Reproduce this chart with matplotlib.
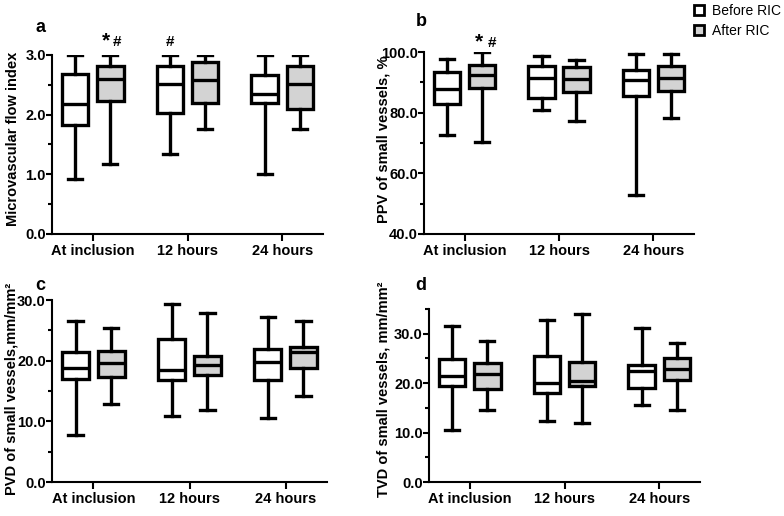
import matplotlib
matplotlib.use('Agg')
import matplotlib.pyplot as plt
from matplotlib.patches import Patch
from matplotlib.ticker import MultipleLocator, FormatStrFormatter

plt.rcParams['font.family'] = ['Liberation Sans', 'DejaVu Sans']

groups = ['At inclusion', '12 hours', '24 hours']

# five-number summaries per time point: [min, q1, median, q3, max]
mfi_before = [[0.92, 1.83, 2.18, 2.68, 3.0],
              [1.34, 2.03, 2.51, 2.82, 3.0],
              [1.00, 2.19, 2.34, 2.66, 3.0]]
mfi_after = [[1.18, 2.23, 2.59, 2.82, 3.0],
             [1.76, 2.19, 2.58, 2.88, 3.0],
             [1.76, 2.10, 2.51, 2.82, 3.0]]

ppv_before = [[72.6, 82.9, 87.9, 93.4, 97.7],
              [80.8, 84.8, 91.3, 95.5, 98.8],
              [52.7, 85.5, 90.8, 94.1, 99.2]]
ppv_after = [[70.3, 88.2, 92.5, 95.7, 100.0],
             [77.3, 86.8, 91.2, 95.1, 97.5],
             [78.4, 87.0, 91.4, 95.4, 99.5]]

pvd_before = [[7.7, 17.0, 18.8, 21.4, 26.6],
              [10.9, 16.8, 18.5, 23.5, 29.4],
              [10.6, 16.8, 19.7, 22.0, 27.2]]
pvd_after = [[12.8, 17.3, 19.6, 21.6, 25.4],
             [11.8, 17.7, 19.3, 20.8, 27.9],
             [14.2, 18.8, 21.5, 22.2, 26.5]]

tvd_before = [[10.6, 19.4, 21.5, 24.9, 31.5],
              [12.4, 18.1, 20.0, 25.5, 32.8],
              [15.5, 19.0, 22.4, 23.7, 31.1]]
tvd_after = [[14.6, 18.9, 21.9, 24.1, 28.6],
             [11.9, 19.4, 20.4, 24.2, 34.0],
             [14.5, 20.7, 22.9, 25.1, 28.2]]

W, H = 784, 516
fig = plt.figure(figsize=(W / 100, H / 100), dpi=100)


def make_ax(l, r, t, b):
    return fig.add_axes([l / W, 1 - b / H, (r - l) / W, (b - t) / H])


def to_stats(rows):
    return [dict(whislo=r[0], q1=r[1], med=r[2], q3=r[3], whishi=r[4],
                 fliers=[]) for r in rows]


def panel(ax, before, after, ylim, major, minor, ylabel, label_x, mid_y):
    off = 0.185
    for vals, dx, fc in ((before, -off, 'white'), (after, off, '#d3d3d3')):
        ax.bxp(to_stats(vals), positions=[i + dx for i in range(3)],
               widths=0.28, capwidths=0.15, patch_artist=True,
               showfliers=False,
               boxprops=dict(facecolor=fc, edgecolor='black', linewidth=2.4),
               medianprops=dict(color='black', linewidth=2.4),
               whiskerprops=dict(color='black', linewidth=2.4),
               capprops=dict(color='black', linewidth=2.4))
    ax.set_xlim(-0.43, 2.43)
    ax.set_ylim(*ylim)
    ax.set_xticks(range(3))
    ax.set_xticklabels(groups, fontsize=10.5, fontweight='bold')
    ax.yaxis.set_major_locator(MultipleLocator(major))
    ax.yaxis.set_minor_locator(MultipleLocator(minor))
    ax.yaxis.set_major_formatter(FormatStrFormatter('%.1f'))
    for lab in ax.get_yticklabels():
        lab.set_fontweight('bold')
        lab.set_fontsize(10.5)
    ax.tick_params(axis='x', which='major', direction='out', length=5,
                   width=1.5, pad=2)
    ax.tick_params(axis='y', which='major', direction='out', length=4,
                   width=1.5, pad=0.5)
    ax.tick_params(axis='y', which='minor', direction='out', length=3,
                   width=1.5)
    ax.tick_params(axis='x', which='minor', bottom=False)
    for s in ('top', 'right'):
        ax.spines[s].set_visible(False)
    for s in ('left', 'bottom'):
        ax.spines[s].set_linewidth(1.5)
    ax.set_ylabel(ylabel, fontsize=10.5, fontweight='bold')
    ax.yaxis.set_label_coords(label_x / W, 1 - mid_y / H,
                              transform=fig.transFigure)
    ax.patch.set_alpha(0)


ax_a = make_ax(52, 323, 55, 234)
panel(ax_a, mfi_before, mfi_after, (0, 3.0), 1.0, 0.5,
      'Microvascular flow index', 20, 139)
ax_b = make_ax(424, 694, 52, 234)
panel(ax_b, ppv_before, ppv_after, (40, 100), 20, 10,
      'PPV of small vessels, %', 390, 139)
ax_c = make_ax(52, 327, 300, 482)
panel(ax_c, pvd_before, pvd_after, (0, 30), 10, 5,
      'PVD of small vessels,mm/mm²', 19, 389)
ax_d = make_ax(429, 700, 309, 482)
panel(ax_d, tvd_before, tvd_after, (0, 35), 10, 5,
      'TVD of small vessels, mm/mm²', 390, 389)

# significance marks
for ax, x, y in ((ax_a, 0.14, 3.24), (ax_b, 0.15, 103.3)):
    ax.text(x, y, '*', ha='center', va='center', fontsize=15,
            fontweight='bold', clip_on=False)
hashes = [(ax_a, 0.26, 3.22), (ax_a, -0.185 + 1, 3.22), (ax_b, 0.29, 102.9)]
for ax, x, y in hashes:
    ax.text(x, y, '#', ha='center', va='center', fontsize=11,
            fontweight='bold', clip_on=False)

for letter, x, y in (('a', 40, 27), ('b', 421, 21), ('c', 40, 286),
                     ('d', 421, 286)):
    fig.text(x / W, 1 - y / H, letter, ha='center', va='center',
             fontsize=13, fontweight='bold')

handles = [Patch(facecolor='white', edgecolor='black', linewidth=2),
           Patch(facecolor='#d3d3d3', edgecolor='black', linewidth=2)]
fig.legend(handles, ['Before RIC', 'After RIC'], loc='upper right',
           bbox_to_anchor=(1.012, 1.017), frameon=False, fontsize=10,
           handlelength=0.7, handleheight=0.7, handletextpad=0.6,
           labelspacing=0.45)

fig.savefig('out.png', dpi=100)
